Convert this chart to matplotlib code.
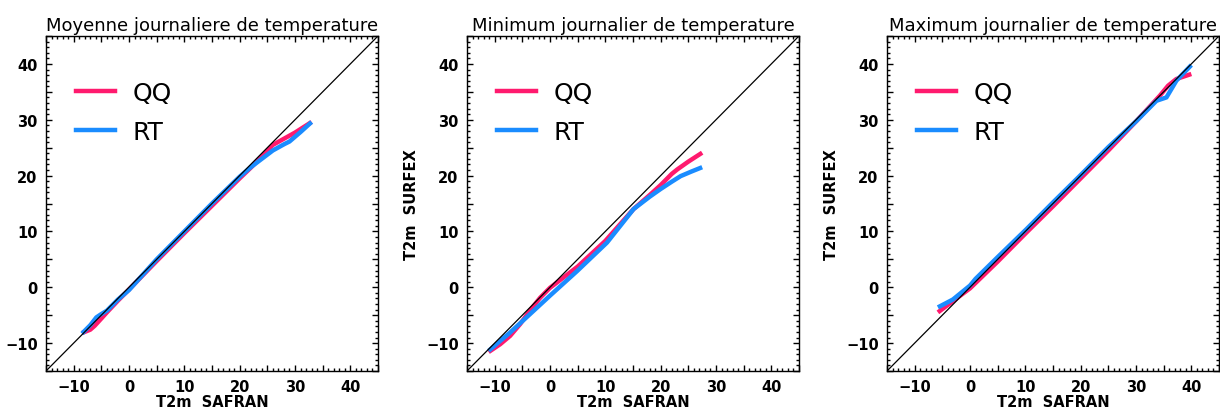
import numpy as np
import matplotlib
matplotlib.use("Agg")
import matplotlib.pyplot as plt
from matplotlib.ticker import MultipleLocator, FuncFormatter
from matplotlib.lines import Line2D

titles = [
    "Moyenne journaliere de temperature",
    "Minimum journalier de temperature",
    "Maximum journalier de temperature",
]

# quantile curves (x = T2m SAFRAN, y = T2m SURFEX)
mean_qq_x = [-8.5, -7.0, -6.2, -5.0, -4.0, -2.0, 0.0, 5.0, 10.0, 15.0, 20.0, 22.0, 24.0, 26.0, 28.0, 30.0, 33.0]
mean_qq_y = [-8.2, -7.6, -6.9, -5.6, -4.5, -2.4, -0.4, 4.7, 9.7, 14.6, 19.5, 21.4, 23.4, 25.5, 26.6, 27.7, 29.6]
mean_rt_x = [-8.5, -7.0, -5.9, -5.0, -4.0, -2.0, 0.0, 5.0, 10.0, 15.0, 20.0, 22.0, 24.0, 26.0, 28.0, 29.0, 31.0, 33.0]
mean_rt_y = [-8.3, -6.8, -5.4, -4.8, -4.2, -2.2, -0.5, 5.0, 10.0, 15.0, 19.8, 21.5, 23.0, 24.5, 25.6, 26.1, 27.8, 29.6]

min_qq_x = [-11.1, -9.0, -7.2, -5.4, -3.5, -1.8, 0.0, 5.0, 10.0, 15.1, 18.0, 20.0, 22.0, 23.0, 25.0, 27.5]
min_qq_y = [-11.6, -10.2, -8.7, -6.6, -4.0, -1.9, -0.1, 3.7, 8.3, 14.0, 16.5, 18.3, 20.3, 21.1, 22.5, 24.1]
min_rt_x = [-11.1, -9.0, -7.2, -3.6, 0.0, 4.9, 10.3, 15.1, 18.0, 20.0, 22.0, 23.6, 25.5, 27.5]
min_rt_y = [-11.4, -9.6, -8.1, -4.8, -1.5, 2.9, 8.0, 14.0, 16.2, 17.6, 18.9, 19.9, 20.7, 21.5]

max_qq_x = [-5.8, -3.1, 0.0, 5.0, 10.2, 15.0, 19.8, 25.0, 30.1, 34.3, 35.8, 37.3, 40.0]
max_qq_y = [-4.5, -2.5, -0.2, 4.6, 9.8, 14.5, 19.3, 24.5, 29.8, 34.3, 36.1, 37.3, 38.2]
max_rt_x = [-5.8, -3.1, 0.0, 1.0, 5.0, 10.2, 15.0, 19.8, 25.0, 30.1, 33.7, 35.5, 37.3, 40.0]
max_rt_y = [-3.6, -2.2, 0.3, 1.5, 5.4, 10.4, 15.2, 19.9, 25.1, 29.8, 33.4, 34.0, 37.0, 39.8]

panels = [
    (mean_qq_x, mean_qq_y, mean_rt_x, mean_rt_y),
    (min_qq_x, min_qq_y, min_rt_x, min_rt_y),
    (max_qq_x, max_qq_y, max_rt_x, max_rt_y),
]

QQ_COLOR = "#ff1a6e"
RT_COLOR = "#1a8cff"

plt.rcParams["font.family"] = "DejaVu Sans"

fig = plt.figure(figsize=(12.2, 4.1), dpi=100)
lefts = [46 / 1220, 467 / 1220, 887 / 1220]
width = 332 / 1220
bottom = 1 - 372 / 410
height = 335 / 410

for k, (left, title, (qx, qy, rx, ry)) in enumerate(zip(lefts, titles, panels)):
    ax = fig.add_axes([left, bottom, width, height])
    ax.plot([-15, 45], [-15, 45], color="black", lw=0.9, zorder=3)
    ax.plot(qx, qy, color=QQ_COLOR, lw=3.2, solid_capstyle="butt", zorder=1)
    ax.plot(rx, ry, color=RT_COLOR, lw=3.2, solid_capstyle="butt", zorder=2)
    ax.set_xlim(-15, 45)
    ax.set_ylim(-15, 45)

    for axis in (ax.xaxis, ax.yaxis):
        axis.set_major_locator(MultipleLocator(5))
        axis.set_minor_locator(MultipleLocator(1))
        axis.set_major_formatter(FuncFormatter(
            lambda v, p: "" if round(v) % 10 else f"{int(round(v))}".replace("-", "\u2212")))
    ax.tick_params(which="both", direction="in", top=True, right=True, width=1.0)
    ax.tick_params(which="major", length=4.5, labelsize=10.5, pad=6)
    ax.tick_params(which="minor", length=2.2)
    for lab in ax.get_xticklabels() + ax.get_yticklabels():
        lab.set_fontweight("bold")
    for s in ax.spines.values():
        s.set_linewidth(1.0)

    ax.set_title(title, fontsize=13, pad=4)
    ax.set_xlabel("T2m  SAFRAN", fontsize=10.5, fontweight="bold", labelpad=0)
    if k > 0:
        ax.set_ylabel("T2m  SURFEX", fontsize=10.5, fontweight="bold", labelpad=5)

    handles = [Line2D([], [], color=QQ_COLOR, lw=3.2),
               Line2D([], [], color=RT_COLOR, lw=3.2)]
    ax.legend(handles, ["QQ", "RT"], loc="upper left", bbox_to_anchor=(0.06, 0.895),
              frameon=False, fontsize=18, handlelength=1.55, handletextpad=0.7,
              labelspacing=0.6, borderaxespad=0.0)

fig.savefig("out.png", dpi=100)
